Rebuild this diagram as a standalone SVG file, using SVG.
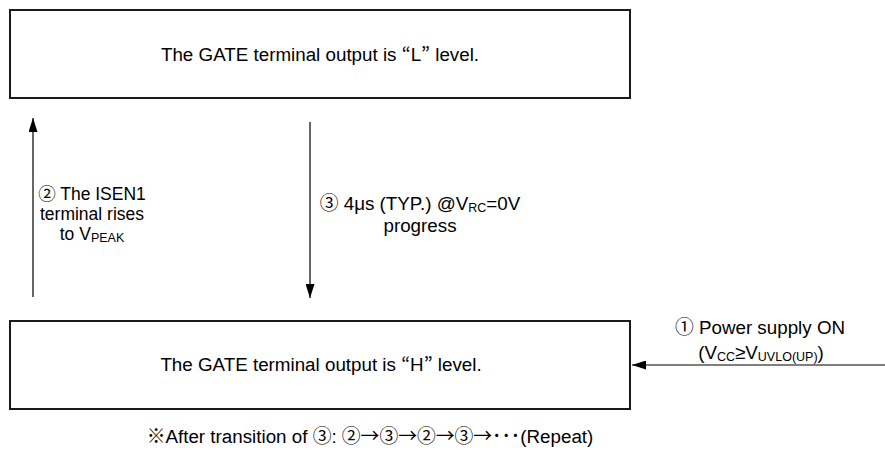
<svg xmlns="http://www.w3.org/2000/svg" width="885" height="450" viewBox="0 0 885 450">
<defs>
<marker id="ah" viewBox="0 0 14 9" refX="14" refY="4.5" markerWidth="14" markerHeight="9" markerUnits="userSpaceOnUse" orient="auto">
<path d="M0,0 L14,4.5 L0,9 Z" fill="#000"/>
</marker>
<style>
.box{fill:#fff;stroke:#1a1a1a;stroke-width:2}
.t{font-family:"Liberation Sans","Noto Sans CJK JP",sans-serif;font-size:18.8px;fill:#000;text-anchor:middle}
.n{font-size:17.5px}
.j{font-family:"Noto Sans CJK JP",sans-serif}
.s{font-size:12.5px}
.c{stroke:#000;stroke-width:1.2;fill:none}
</style>
</defs>
<rect width="885" height="450" fill="#fff"/>
<g id="node-L">
<rect class="box" x="10" y="10" width="620" height="88"/>
<text class="t" x="320" y="61">The GATE terminal output is <tspan class="j">“</tspan>L<tspan class="j">”</tspan> level.</text>
</g>
<g id="node-H">
<rect class="box" x="10" y="321" width="620" height="88"/>
<text class="t" x="321" y="371">The GATE terminal output is <tspan class="j">“</tspan>H<tspan class="j">”</tspan> level.</text>
</g>
<g id="connectors">
<line class="c" x1="33" y1="297" x2="33" y2="118" marker-end="url(#ah)"/>
<line class="c" x1="310" y1="122" x2="310" y2="298" marker-end="url(#ah)"/>
<line class="c" x1="885" y1="365" x2="632" y2="365" stroke="#555" marker-end="url(#ah)"/>
</g>
<g id="labels">
<text class="t n" x="92" y="200"><tspan class="j">②</tspan> The ISEN1</text>
<text class="t n" x="92" y="220">terminal rises</text>
<text class="t n" x="92" y="240">to V<tspan class="s" dy="2">PEAK</tspan></text>
<text class="t" x="420" y="210"><tspan class="j">③</tspan> 4μs (TYP.) @V<tspan class="s" dy="2">RC</tspan><tspan dy="-2">=0V</tspan></text>
<text class="t" x="420" y="232">progress</text>
<text class="t" x="760" y="334"><tspan class="j">①</tspan> Power supply ON</text>
<text class="t" x="761" y="359">(V<tspan class="s" dy="2">CC</tspan><tspan dy="-2">≥V</tspan><tspan class="s" dy="2">UVLO(UP)</tspan><tspan dy="-2">)</tspan></text>
<text class="t" x="370" y="443">※After transition of <tspan class="j">③</tspan>: <tspan class="j">②→③→②→③→･･･</tspan>(Repeat)</text>
</g>
</svg>
